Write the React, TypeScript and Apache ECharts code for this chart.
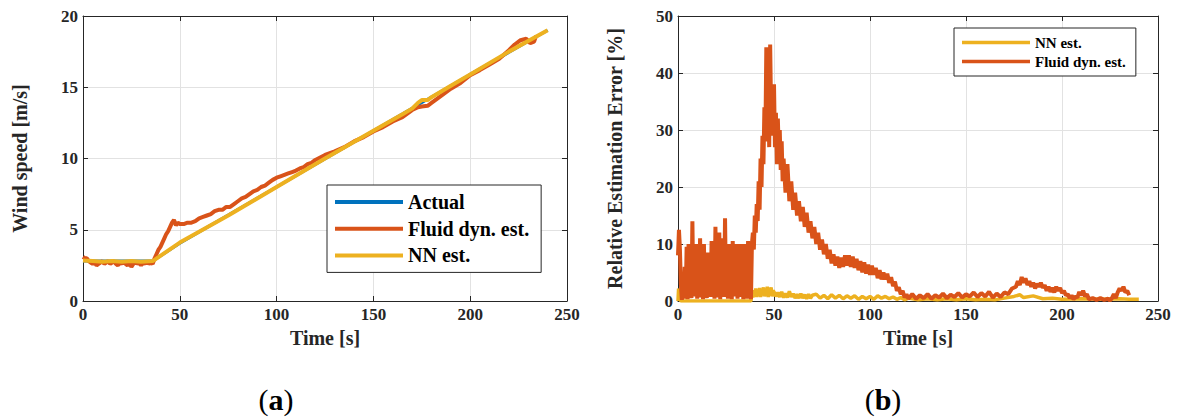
import React, { useEffect, useRef } from "react";
import * as echarts from "echarts";

// ---------- Data ----------
const xTicks = [0, 50, 100, 150, 200, 250];

// (a) Wind speed [m/s]
const actualT = [0, 36, 50, 100, 150, 200, 240];
const actualV = [2.8, 2.8, 4.06, 8.0, 11.95, 15.9, 19.0];

const fluidT = [0, 1, 2, 3, 4, 5, 6, 7, 8, 9, 10, 11, 12, 13, 14, 15, 16, 17, 18, 19, 20, 21, 22, 23, 24, 25, 26, 27, 28, 29, 30, 31, 32, 33, 34, 35, 36, 37, 38, 39, 40, 41, 42, 43, 44, 45, 46, 47, 48, 49, 50, 52, 54, 56, 58, 60, 62, 64, 66, 68, 70, 72, 74, 76, 78, 80, 82, 84, 86, 88, 90, 92, 94, 96, 98, 100, 102, 104, 106, 108, 110, 112, 114, 116, 118, 120, 125, 130, 135, 140, 145, 150, 155, 160, 165, 170, 173, 175, 178, 180, 183, 186, 190, 195, 200, 205, 210, 215, 220, 223, 226, 229, 231, 233, 234];
const fluidV = [3.1, 3.0, 3.0, 2.8, 2.7, 2.6, 2.7, 2.5, 2.6, 2.7, 2.8, 2.6, 2.7, 2.8, 2.6, 2.7, 2.8, 2.6, 2.5, 2.7, 2.6, 2.8, 2.6, 2.5, 2.7, 2.4, 2.6, 2.8, 2.6, 2.7, 2.5, 2.7, 2.6, 2.8, 2.6, 2.7, 2.6, 3.0, 3.3, 3.6, 3.8, 4.1, 4.4, 4.7, 4.9, 5.2, 5.5, 5.7, 5.3, 5.5, 5.4, 5.4, 5.5, 5.5, 5.6, 5.8, 5.9, 6.0, 6.1, 6.3, 6.4, 6.4, 6.6, 6.6, 6.8, 7.0, 7.2, 7.3, 7.5, 7.7, 7.8, 8.0, 8.1, 8.3, 8.5, 8.65, 8.75, 8.85, 8.95, 9.05, 9.15, 9.3, 9.4, 9.6, 9.7, 9.9, 10.25, 10.5, 10.8, 11.2, 11.5, 11.9, 12.2, 12.6, 12.9, 13.4, 13.6, 13.65, 13.7, 13.9, 14.2, 14.5, 14.9, 15.3, 15.85, 16.2, 16.6, 17.0, 17.6, 18.0, 18.3, 18.4, 18.1, 18.2, 18.6];

const nnT = [0, 5, 10, 15, 20, 25, 30, 36, 50, 75, 100, 125, 150, 165, 170, 173, 175, 178, 180, 190, 200, 220, 240];
const nnV = [2.85, 2.8, 2.75, 2.8, 2.75, 2.8, 2.75, 2.8, 4.1, 6.0, 8.0, 10.0, 11.95, 13.1, 13.5, 13.9, 14.1, 14.1, 14.3, 15.1, 15.9, 17.5, 19.0];

// (b) Relative estimation error [%]
const errFluidT = [
  0, 0.5, 1, 1.5, 2, 2.5, 3, 3.5, 4, 4.5, 5, 5.5, 6, 6.5, 7, 7.5, 8, 8.5, 9, 9.5,
  10, 10.5, 11, 11.5, 12, 12.5, 13, 13.5, 14, 14.5, 15, 15.5, 16, 16.5, 17, 17.5, 18, 18.5, 19, 19.5,
  20, 20.5, 21, 21.5, 22, 22.5, 23, 23.5, 24, 24.5, 25, 25.5, 26, 26.5, 27, 27.5, 28, 28.5, 29, 29.5,
  30, 30.5, 31, 31.5, 32, 32.5, 33, 33.5, 34, 34.5, 35, 35.5, 36, 36.5, 37, 37.5, 38, 38.5, 39, 39.5,
  40, 40.5, 41, 41.5, 42, 42.5, 43, 43.5, 44, 44.5, 45, 45.5, 46, 46.5, 47, 47.5, 48, 48.5, 49, 49.5,
  50, 50.5, 51, 51.5, 52, 52.5, 53, 53.5, 54, 54.5, 55, 56, 57, 58, 59, 60, 61, 62, 63, 64,
  65, 66, 67, 68, 69, 70, 71, 72, 73, 74, 75, 76, 77, 78, 79, 80, 81, 82, 83, 84,
  85, 86, 87, 88, 89, 90, 91, 92, 93, 94, 95, 96, 97, 98, 99, 100, 101, 102, 103, 104,
  105, 106, 107, 108, 109, 110, 111, 112, 113, 114, 115, 116, 117, 118, 119, 120, 122, 124, 126, 128,
  130, 132, 134, 136, 138, 140, 142, 144, 146, 148, 150, 152, 154, 156, 158, 160, 162, 164, 166, 168,
  170, 172, 174, 176, 177, 178, 179, 180, 181, 182, 183, 184, 185, 186, 187, 188, 189, 190, 191, 192,
  193, 194, 195, 196, 197, 198, 199, 200, 201, 202, 203, 204, 205, 206, 207, 208, 209, 210, 211, 212,
  213, 214, 216, 218, 220, 222, 224, 225, 226, 227, 228, 229, 230, 231, 232, 233, 234, 235,
];
const errFluidV = [
  8, 12.5, 9, 3, 0.2, 1.5, 0.5, 6, 0.4, 9.5, 0.3, 10, 1, 7, 0.5, 14, 0.8, 9, 1.2, 10,
  0.4, 8, 1, 11, 0.6, 9, 0.3, 10, 1.1, 8, 0.5, 8.5, 1.3, 8, 0.7, 10.5, 1, 7, 0.4, 13,
  1.2, 9, 0.6, 12, 0.3, 8, 1, 11, 0.7, 14.5, 1.3, 9, 0.4, 10, 1, 7, 0.3, 10.5, 0.8, 8,
  1.4, 10, 0.4, 6, 1, 10, 0.7, 9, 0.3, 10, 1, 7, 0.4, 10.5, 1.2, 6, 0.3, 10, 12, 9,
  15, 12, 17, 14, 21, 16, 25, 20, 29, 24, 34, 28, 44.5, 30, 38, 27, 45, 33, 37, 29,
  38, 27, 33, 24, 32, 26, 30, 23, 28, 21, 25, 19, 24, 17.5, 21, 16, 19, 15, 17.5, 14,
  16.5, 13, 15.5, 12, 14, 11, 13, 10, 12, 9, 10.8, 8.2, 10, 7.4, 9, 6.6, 8.2, 6.2, 7.8, 5.8,
  7.6, 6, 8, 6.2, 8, 6, 7.8, 5.8, 7.4, 5.4, 7, 5, 6.8, 4.8, 6.4, 4.6, 6.2, 4.6, 5.8, 4,
  5.4, 3.8, 5, 3.8, 4.8, 3.2, 4.2, 2.6, 3.4, 1.8, 2.4, 1.2, 1.8, 0.6, 1.2, 0.4, 1.2, 0.4, 1.0, 0.5,
  1.2, 0.4, 1.0, 0.6, 1.3, 0.5, 1.1, 0.7, 1.4, 0.6, 1.2, 0.8, 1.5, 0.7, 1.4, 0.8, 1.6, 0.6, 1.3, 0.7,
  1.5, 1.2, 2.2, 2.5, 3.5, 2.8, 4.2, 3.2, 4.0, 2.8, 3.5, 2.5, 3.2, 2.2, 3.0, 2.5, 3.2, 2.3, 2.8, 1.8,
  2.5, 1.6, 2.3, 1.5, 2.5, 1.8, 2.3, 1.4, 1.8, 1.0, 1.2, 0.5, 1.0, 0.3, 0.8, 0.6, 1.6, 1.0, 1.8, 0.8,
  1.2, 0.3, 0.5, 0.2, 0.5, 0.2, 0.4, 0.1, 0.5, 1.2, 0.5, 1.5, 2.2, 1.8, 2.5, 1.5, 1.8, 1.0,
];

const errNnT = [0, 0.3, 0.8, 1.5, 38, 38.5, 39, 39.5, 40, 40.5, 41, 41.5, 42, 42.5, 43, 43.5, 44, 44.5, 45, 45.5, 46, 46.5, 47, 47.5, 48, 48.5, 49, 49.5, 50, 51, 52, 53, 54, 55, 56, 57, 58, 59, 60, 61, 62, 63, 64, 65, 66, 67, 68, 69, 70, 72, 74, 76, 78, 80, 82, 84, 86, 88, 90, 92, 94, 96, 98, 100, 102, 104, 106, 108, 110, 112, 114, 116, 118, 120, 125, 130, 135, 140, 145, 150, 155, 160, 165, 170, 175, 178, 180, 185, 190, 195, 200, 210, 220, 230, 235, 240];
const errNnV = [0, 2.2, 0.3, 0, 0, 1.6, 0.6, 1.9, 0.8, 2.2, 0.7, 2.0, 0.9, 2.3, 0.7, 2.1, 1.0, 2.4, 0.8, 2.0, 0.9, 2.5, 0.7, 1.9, 1.0, 2.4, 0.8, 1.8, 1.6, 0.8, 1.5, 0.7, 1.6, 0.6, 1.3, 0.6, 1.7, 0.7, 1.3, 0.5, 1.2, 0.5, 1.3, 0.5, 1.1, 0.4, 1.2, 0.5, 1.0, 1.2, 0.5, 1.0, 0.4, 1.1, 0.5, 1.0, 0.4, 0.9, 0.5, 0.9, 0.3, 0.8, 0.4, 0.8, 0.3, 0.9, 0.5, 0.8, 0.4, 0.7, 0.3, 0.6, 0.2, 0.5, 0.2, 0.4, 0.2, 0.4, 0.2, 0.4, 0.2, 0.3, 0.2, 0.5, 0.8, 1.1, 0.6, 0.9, 0.4, 0.5, 0.3, 0.4, 0.3, 0.4, 0.3, 0.3];

const names = { actual: "Actual", fluid: "Fluid dyn. est.", nn: "NN est." };

// ---------- Styling ----------
const FONT = "'Liberation Serif', 'Times New Roman', serif";
const AXIS_COLOR = "#262626";
const BLUE = "#0072BD";
const ORANGE = "#D95319";
const YELLOW = "#EDB120";

const zip = (t: number[], v: number[]) => t.map((x, i) => [x, v[i]]);

function xAxes(grid: number, name: string) {
  const common = {
    type: "value",
    gridIndex: grid,
    min: xTicks[0],
    max: xTicks[xTicks.length - 1],
    interval: 50,
    axisLine: { show: true, onZero: false, lineStyle: { color: AXIS_COLOR, width: 1 } },
    axisTick: { show: true, inside: true, length: 5, lineStyle: { color: AXIS_COLOR } },
  };
  return [
    {
      ...common,
      position: "bottom",
      axisLabel: { fontFamily: FONT, fontWeight: "bold", fontSize: 17, color: AXIS_COLOR, margin: 5 },
      splitLine: { show: true, lineStyle: { color: "#e2e2e2", width: 1 } },
      name,
      nameLocation: "middle",
      nameGap: 26,
      nameTextStyle: { fontFamily: FONT, fontWeight: "bold", fontSize: 20, color: AXIS_COLOR },
    },
    { ...common, position: "top", axisLabel: { show: false }, splitLine: { show: false } },
  ];
}

function yAxes(grid: number, max: number, interval: number, name: string) {
  const common = {
    type: "value",
    gridIndex: grid,
    min: 0,
    max,
    interval,
    axisLine: { show: true, onZero: false, lineStyle: { color: AXIS_COLOR, width: 1 } },
    axisTick: { show: true, inside: true, length: 5, lineStyle: { color: AXIS_COLOR } },
  };
  return [
    {
      ...common,
      position: "left",
      axisLabel: { fontFamily: FONT, fontWeight: "bold", fontSize: 17, color: AXIS_COLOR, margin: 5 },
      splitLine: { show: true, lineStyle: { color: "#e2e2e2", width: 1 } },
      name,
      nameLocation: "middle",
      nameGap: 53,
      nameTextStyle: { fontFamily: FONT, fontWeight: "bold", fontSize: 20, color: AXIS_COLOR },
    },
    { ...common, position: "right", axisLabel: { show: false }, splitLine: { show: false } },
  ];
}

export default function App() {
  const ref = useRef<HTMLDivElement>(null);

  useEffect(() => {
    if (!ref.current) return;
    const chart = echarts.init(ref.current, undefined, { renderer: "svg" });
    const legendText = (size: number) => ({
      fontFamily: FONT,
      fontWeight: "bold",
      fontSize: size,
      lineHeight: size,
      color: "#000",
    });
    const label = (letter: string, x: number) => ({
      type: "text",
      x,
      y: 399,
      style: {
        text: `{n|(}{b|${letter}}{n|)}`,
        align: "center",
        verticalAlign: "middle",
        rich: {
          n: { fontFamily: FONT, fontSize: 30, fill: "#000" },
          b: { fontFamily: FONT, fontSize: 30, fontWeight: "bold", fill: "#000" },
        },
      },
    });
    chart.setOption({
      animation: false,
      backgroundColor: "#ffffff",
      grid: [
        { left: 83, top: 16, width: 484, height: 285, show: false },
        { left: 678, top: 16, width: 480, height: 285, show: false },
      ],
      xAxis: [...xAxes(0, "Time [s]"), ...xAxes(1, "Time [s]")],
      yAxis: [
        ...yAxes(0, 20, 5, "Wind speed [m/s]"),
        ...yAxes(1, 50, 10, "Relative Estimation Error [%]"),
      ],
      legend: [
        {
          orient: "vertical",
          left: 327,
          top: 185,
          padding: [7, 12, 7, 8],
          itemGap: 6.7,
          itemWidth: 68,
          itemHeight: 4,
          icon: "rect",
          borderColor: AXIS_COLOR,
          borderWidth: 1,
          backgroundColor: "#fff",
          textStyle: legendText(20),
          data: [names.actual, names.fluid, names.nn],
        },
        {
          orient: "vertical",
          left: 954,
          top: 28,
          padding: [7, 10, 7, 8],
          itemGap: 4,
          itemWidth: 68,
          itemHeight: 3.5,
          icon: "rect",
          borderColor: AXIS_COLOR,
          borderWidth: 1,
          backgroundColor: "#fff",
          textStyle: legendText(15),
          data: [names.nn, names.fluid],
        },
      ],
      series: [
        {
          name: names.actual,
          type: "line",
          xAxisIndex: 0,
          yAxisIndex: 0,
          symbol: "none",
          lineStyle: { color: BLUE, width: 3 },
          itemStyle: { color: BLUE },
          data: zip(actualT, actualV),
        },
        {
          name: names.fluid,
          type: "line",
          xAxisIndex: 0,
          yAxisIndex: 0,
          symbol: "none",
          lineStyle: { color: ORANGE, width: 4 },
          itemStyle: { color: ORANGE },
          data: zip(fluidT, fluidV),
        },
        {
          name: names.nn,
          type: "line",
          xAxisIndex: 0,
          yAxisIndex: 0,
          symbol: "none",
          lineStyle: { color: YELLOW, width: 4 },
          itemStyle: { color: YELLOW },
          data: zip(nnT, nnV),
        },
        {
          name: names.nn,
          type: "line",
          xAxisIndex: 2,
          yAxisIndex: 2,
          symbol: "none",
          lineStyle: { color: YELLOW, width: 3.5 },
          itemStyle: { color: YELLOW },
          data: zip(errNnT, errNnV),
        },
        {
          name: names.fluid,
          type: "line",
          xAxisIndex: 2,
          yAxisIndex: 2,
          symbol: "none",
          lineStyle: { color: ORANGE, width: 4, join: "bevel" },
          itemStyle: { color: ORANGE },
          data: zip(errFluidT, errFluidV),
        },
      ],
      graphic: [label("a", 276), label("b", 883)],
    });
    return () => chart.dispose();
  }, []);

  return (
    <div
      ref={ref}
      style={{ position: "fixed", left: 0, top: 0, width: 1184, height: 417, background: "#fff" }}
    />
  );
}
